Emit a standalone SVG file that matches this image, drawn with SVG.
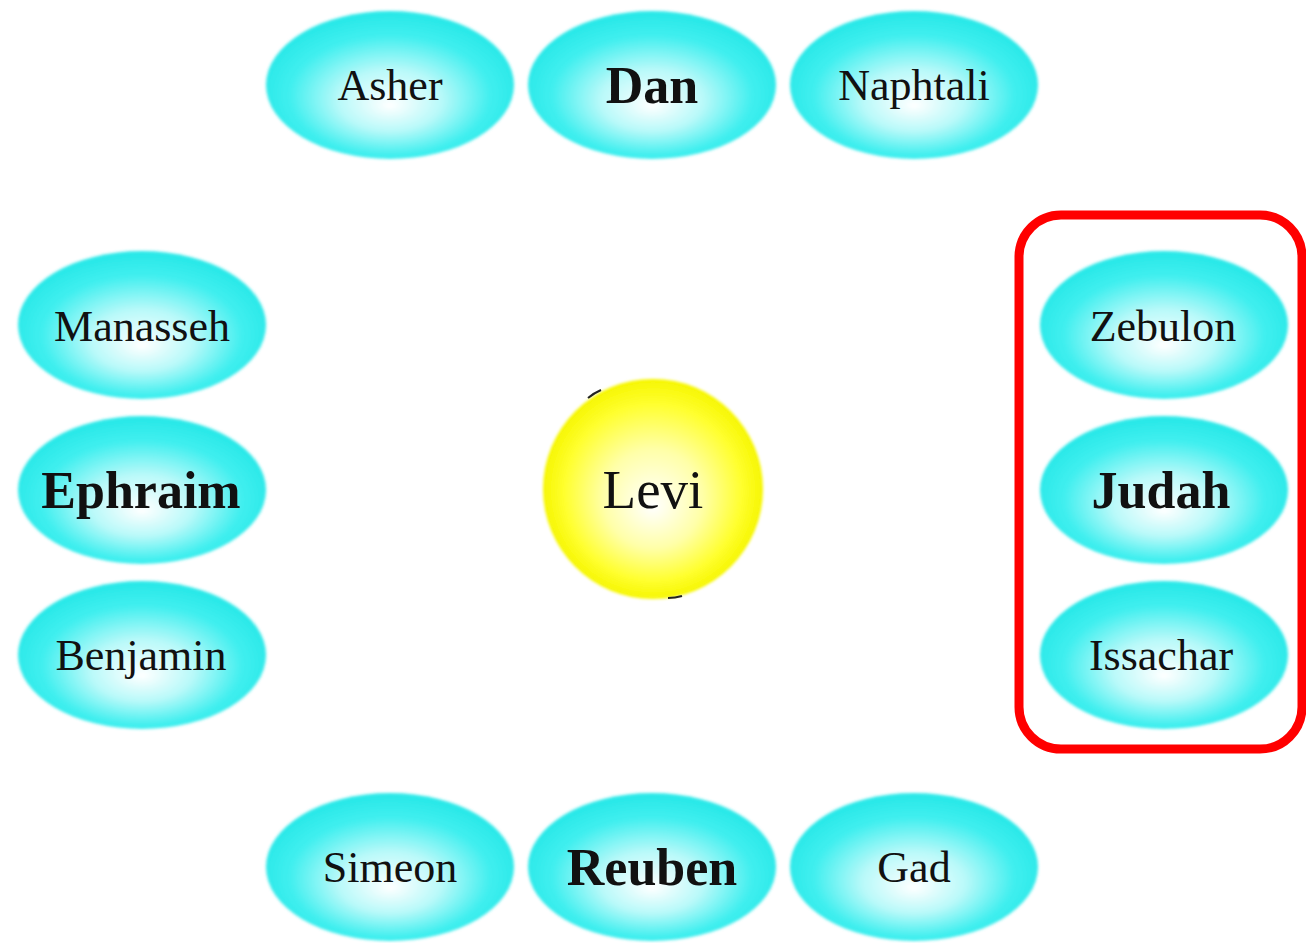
<svg xmlns="http://www.w3.org/2000/svg" width="1306" height="943" viewBox="0 0 1306 943">
<defs>
<radialGradient id="cy" cx="50%" cy="55%" r="52%" fx="50%" fy="64%">
<stop offset="0" stop-color="#ffffff"/>
<stop offset="0.4" stop-color="#b8f9f9"/>
<stop offset="0.78" stop-color="#40efef"/>
<stop offset="1" stop-color="#2ae8e8"/>
</radialGradient>
<radialGradient id="yl" cx="50%" cy="50%" r="50%" fx="50%" fy="58%">
<stop offset="0" stop-color="#ffffff"/>
<stop offset="0.45" stop-color="#ffffa8"/>
<stop offset="0.8" stop-color="#ffff30"/>
<stop offset="1" stop-color="#f6f600"/>
</radialGradient>
<filter id="soft" x="-5%" y="-5%" width="110%" height="110%"><feGaussianBlur stdDeviation="1.5"/></filter>
</defs>
<style>
.e{fill:url(#cy);filter:url(#soft)}
.t{font-family:"Liberation Serif","Times New Roman",serif;font-size:44px;fill:#111;text-anchor:middle}
.b{font-weight:bold;font-size:52px}
</style>
<rect width="1306" height="943" fill="#fff"/>
<g id="frame"><rect x="1019" y="215" width="283" height="534" rx="42" ry="42" fill="none" stroke="#ff0000" stroke-width="9"/></g>
<g id="connectors"/>
<g id="asher"><ellipse class="e" cx="390" cy="85" rx="124" ry="74"/><text class="t" x="390" y="100">Asher</text></g>
<g id="dan"><ellipse class="e" cx="652" cy="85" rx="124" ry="74"/><text class="t b" x="652" y="103">Dan</text></g>
<g id="naphtali"><ellipse class="e" cx="914" cy="85" rx="124" ry="74"/><text class="t" x="914" y="100">Naphtali</text></g>
<g id="manasseh"><ellipse class="e" cx="142" cy="325" rx="124" ry="74"/><text class="t" x="142" y="341">Manasseh</text></g>
<g id="ephraim"><ellipse class="e" cx="142" cy="490" rx="124" ry="74"/><text class="t b" x="141" y="508">Ephraim</text></g>
<g id="benjamin"><ellipse class="e" cx="142" cy="655" rx="124" ry="74"/><text class="t" x="141" y="670">Benjamin</text></g>
<g id="zebulon"><ellipse class="e" cx="1164" cy="325" rx="124" ry="74"/><text class="t" x="1163" y="341">Zebulon</text></g>
<g id="judah"><ellipse class="e" cx="1164" cy="490" rx="124" ry="74"/><text class="t b" x="1161" y="508">Judah</text></g>
<g id="issachar"><ellipse class="e" cx="1164" cy="655" rx="124" ry="74"/><text class="t" x="1161" y="670">Issachar</text></g>
<g id="simeon"><ellipse class="e" cx="390" cy="867" rx="124" ry="74"/><text class="t" x="390" y="882">Simeon</text></g>
<g id="reuben"><ellipse class="e" cx="652" cy="867" rx="124" ry="74"/><text class="t b" x="652" y="885">Reuben</text></g>
<g id="gad"><ellipse class="e" cx="914" cy="867" rx="124" ry="74"/><text class="t" x="914" y="882">Gad</text></g>
<g id="levi"><circle cx="653" cy="489" r="110" fill="url(#yl)" filter="url(#soft)"/>
<path d="M588 398 Q594 393 601 390" fill="none" stroke="#222" stroke-width="2"/>
<path d="M668 598 Q675 598 682 596" fill="none" stroke="#222" stroke-width="2"/>
<text class="t" x="653" y="508" style="font-size:55px">Levi</text></g>
</svg>
